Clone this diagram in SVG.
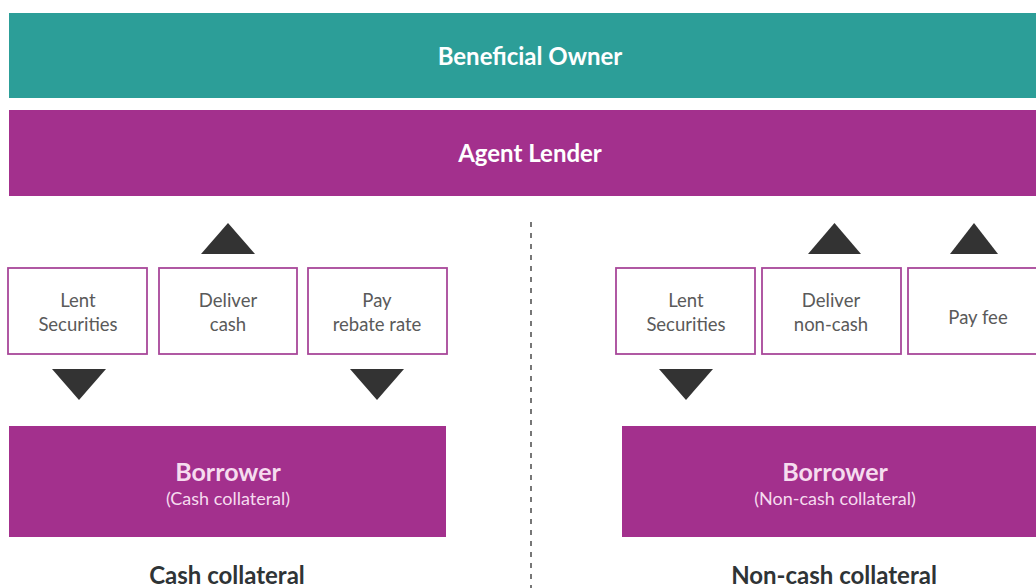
<svg xmlns="http://www.w3.org/2000/svg" width="1036" height="588" viewBox="0 0 1036 588">
<style>
.bar-t{fill:#2c9e98}
.bar-p{fill:#a3308d}
.hdr{font-family:Lato,"Liberation Sans",sans-serif;font-size:24px;font-weight:bold;fill:#ffffff;text-anchor:middle}
.box{fill:#ffffff;stroke:#a8479a;stroke-width:1.8}
.bt{font-family:Lato,"Liberation Sans",sans-serif;font-size:18.5px;fill:#5a5a5a;text-anchor:middle}
.tri{fill:#333333}
.bor{font-family:Lato,"Liberation Sans",sans-serif;font-size:25px;font-weight:bold;fill:#f6dcef;text-anchor:middle}
.bors{font-family:Lato,"Liberation Sans",sans-serif;font-size:18px;fill:#f6dcef;text-anchor:middle}
.cap{font-family:Lato,"Liberation Sans",sans-serif;font-size:24px;font-weight:bold;fill:#2f3436;text-anchor:middle}
</style>
<rect width="1036" height="588" fill="#ffffff"/>
<g id="beneficial-owner">
<rect class="bar-t" x="9" y="13" width="1027" height="85"/>
<text class="hdr" x="530" y="65">Beneficial Owner</text>
</g>
<g id="agent-lender">
<rect class="bar-p" x="9" y="110" width="1027" height="86"/>
<text class="hdr" x="530" y="162">Agent Lender</text>
</g>
<g id="divider">
<line x1="531" y1="222" x2="531" y2="588" stroke="#555555" stroke-width="1.6" stroke-dasharray="5,6"/>
</g>
<g id="left-lent">
<rect class="box" x="8" y="268" width="139" height="86"/>
<text class="bt" x="78" y="307">Lent</text>
<text class="bt" x="78" y="331">Securities</text>
</g>
<g id="left-deliver">
<rect class="box" x="159" y="268" width="138" height="86"/>
<text class="bt" x="228" y="307">Deliver</text>
<text class="bt" x="228" y="331">cash</text>
</g>
<g id="left-pay">
<rect class="box" x="308" y="268" width="139" height="86"/>
<text class="bt" x="377" y="307">Pay</text>
<text class="bt" x="377" y="331">rebate rate</text>
</g>
<g id="right-lent">
<rect class="box" x="616" y="268" width="139" height="86"/>
<text class="bt" x="686" y="307">Lent</text>
<text class="bt" x="686" y="331">Securities</text>
</g>
<g id="right-deliver">
<rect class="box" x="762" y="268" width="139" height="86"/>
<text class="bt" x="831" y="307">Deliver</text>
<text class="bt" x="831" y="331">non-cash</text>
</g>
<g id="right-pay">
<rect class="box" x="908" y="268" width="140" height="86"/>
<text class="bt" x="978" y="324">Pay fee</text>
</g>
<g id="connectors">
<polygon class="tri" points="201,254 255,254 228,223"/>
<polygon class="tri" points="52,369 106,369 79,400"/>
<polygon class="tri" points="350,369 404,369 377,400"/>
<polygon class="tri" points="808,254 861,254 834.5,223"/>
<polygon class="tri" points="950,254 998,254 974,223"/>
<polygon class="tri" points="659,369 713,369 686,400"/>
</g>
<g id="borrower-cash">
<rect class="bar-p" x="9" y="426" width="437" height="111"/>
<text class="bor" x="228" y="481">Borrower</text>
<text class="bors" x="228" y="505">(Cash collateral)</text>
</g>
<g id="borrower-noncash">
<rect class="bar-p" x="622" y="426" width="414" height="111"/>
<text class="bor" x="835" y="481">Borrower</text>
<text class="bors" x="835" y="505">(Non-cash collateral)</text>
</g>
<g id="caption-cash">
<text class="cap" x="227" y="584">Cash collateral</text>
</g>
<g id="caption-noncash">
<text class="cap" x="834" y="584">Non-cash collateral</text>
</g>
</svg>
